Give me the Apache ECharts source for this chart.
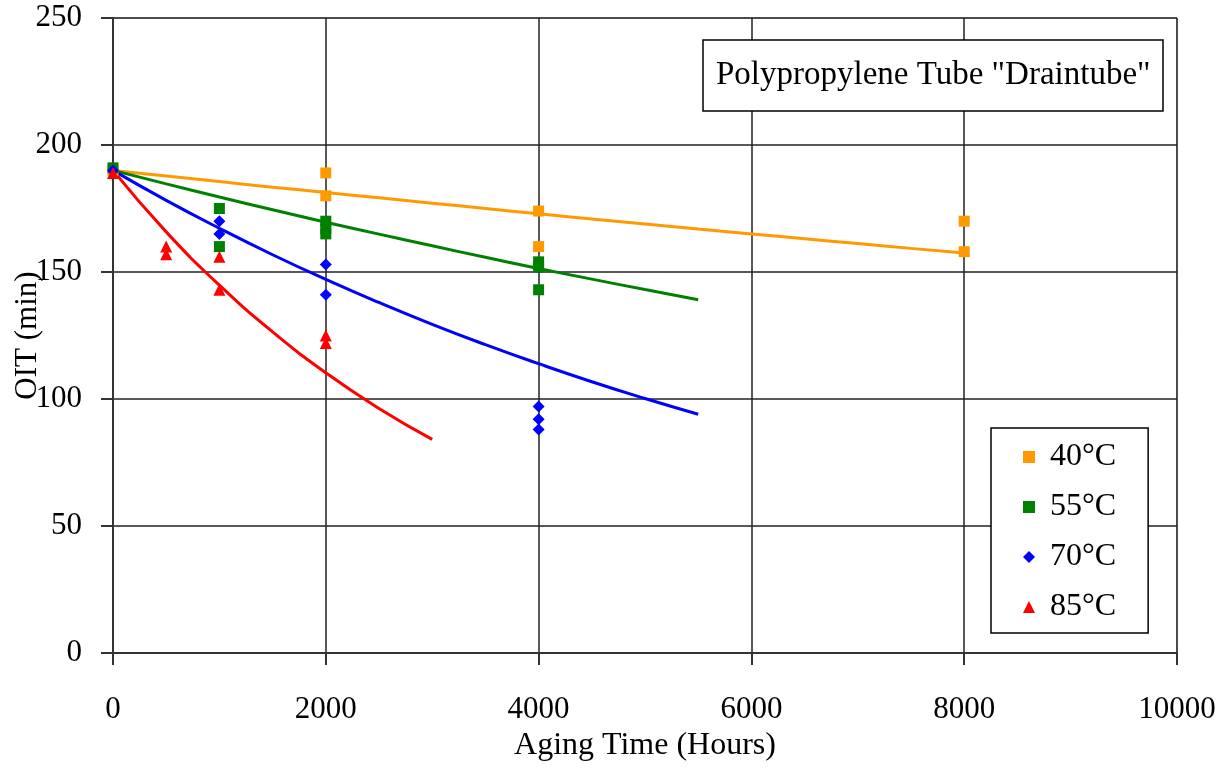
<!DOCTYPE html>
<html>
<head>
<meta charset="utf-8">
<script src="https://cdn.jsdelivr.net/npm/echarts@6/dist/echarts.min.js"></script>
<style>html,body{margin:0;padding:0;background:#fff}#c{width:1230px;height:771px}</style>
</head>
<body>
<div id="c"></div>
<script>
// Measured points [hours, OIT]
var pts40 = [[0,190],[2000,189],[2000,180],[4000,174],[4000,160],[8000,170],[8000,158]];
var pts55 = [[0,191],[1000,175],[1000,160],[2000,170],[2000,167],[2000,165],[4000,154],[4000,152],[4000,143]];
var pts70 = [[0,190],[1000,170],[1000,165],[2000,153],[2000,141],[4000,97],[4000,92],[4000,88]];
var pts85 = [[0,189],[500,160],[500,157],[1000,156],[1000,143],[2000,125],[2000,122]];
// Trend lines every 500 h
var trendHours40 = [0,500,1000,1500,2000,2500,3000,3500,4000,4500,5000,5500,6000,6500,7000,7500,8000];
var trend40 = [190,187.8,185.6,183.4,181.3,179.2,177.1,175,172.9,170.9,168.9,166.9,165,163.1,161.2,159.3,157.5];
var trendHours55 = [0,500,1000,1500,2000,2500,3000,3500,4000,4500,5000,5500];
var trend55 = [190,184.7,179.5,174.5,169.6,164.9,160.3,155.8,151.4,147.2,143.1,139.1];
var trendHours70 = [0,500,1000,1500,2000,2500,3000,3500,4000,4500,5000,5500];
var trend70 = [190,178.2,167.2,156.8,147.1,138,129.4,121.4,113.9,106.8,100.2,94];
var trendHours85 = [0,500,1000,1500,2000,2500,3000];
var trend85 = [190,165.8,144.8,126.4,110.3,96.3,84.1];
var seriesNames = ['40°C','55°C','70°C','85°C'];
var colors = ['#FF9900','#008000','#0000FF','#FF0000'];
var xTicks = {min:0,max:10000,interval:2000};
var yTicks = {min:0,max:250,interval:50};

function zip(h, v){ return h.map(function(x,i){ return [x, v[i]]; }); }
var font = '"Liberation Serif","Times New Roman",serif';
var chart = echarts.init(document.getElementById('c'));
var lineSeries = [[trendHours40,trend40],[trendHours55,trend55],[trendHours70,trend70],[trendHours85,trend85]].map(function(d,i){
  return {type:'line', name:'trend'+i, data:zip(d[0],d[1]), showSymbol:false, smooth:true,
    lineStyle:{color:colors[i], width:3}, z:2, silent:true};
});
var symbols = ['rect','rect','diamond','triangle'];
var sizes = [11,11,12,12];
var scatterSeries = [pts40,pts55,pts70,pts85].map(function(d,i){
  return {type:'scatter', name:seriesNames[i], data:d, symbol:symbols[i], symbolSize:sizes[i],
    itemStyle:{color:colors[i], opacity:1}, z:3};
});
function plain(v){ return String(v); }
chart.setOption({
  animation:false,
  title:{text:'Polypropylene Tube "Draintube"', left:703, top:40,
    textStyle:{fontFamily:font, fontSize:33, fontWeight:'normal', color:'#000'},
    padding:[19,13,19,13], borderColor:'#000', borderWidth:1.5, backgroundColor:'#fff'},
  legend:{data:seriesNames, orient:'vertical', left:991, top:428,
    padding:[13,32,10,32], itemGap:18, itemWidth:12, itemHeight:12,
    borderColor:'#000', borderWidth:1.5, backgroundColor:'#fff',
    textStyle:{fontFamily:font, fontSize:32, color:'#000', padding:[0,0,0,10]}},
  grid:{left:113, right:53, top:18, bottom:118, show:true, borderColor:'#999', borderWidth:1, outerBoundsMode:'none', containLabel:false},
  xAxis:{type:'value', min:xTicks.min, max:xTicks.max, interval:xTicks.interval,
    name:'Aging Time (Hours)', nameLocation:'middle', nameGap:77,
    nameTextStyle:{fontFamily:font, fontSize:32, color:'#000'},
    axisLine:{show:true, lineStyle:{color:'#333', width:2}},
    axisTick:{show:true, length:12, lineStyle:{color:'#333', width:2}},
    axisLabel:{fontFamily:font, fontSize:31, color:'#000', margin:41, formatter:plain},
    splitLine:{show:true, lineStyle:{color:'#222', width:1.5}}},
  yAxis:{type:'value', min:yTicks.min, max:yTicks.max, interval:yTicks.interval,
    name:'OIT (min)', nameLocation:'middle', nameGap:70, nameMoveOverlap:false,
    nameTextStyle:{fontFamily:font, fontSize:31, color:'#000'},
    axisLine:{show:true, lineStyle:{color:'#333', width:2}},
    axisTick:{show:true, length:12, lineStyle:{color:'#333', width:2}},
    axisLabel:{fontFamily:font, fontSize:31, color:'#000', margin:31, formatter:plain},
    splitLine:{show:true, lineStyle:{color:'#222', width:1.5}}},
  series: lineSeries.concat(scatterSeries)
});
</script>
</body>
</html>
